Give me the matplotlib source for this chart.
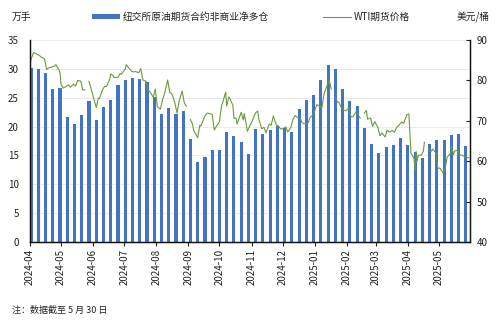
import numpy as np
import pandas as pd
import matplotlib
matplotlib.use("Agg")
import matplotlib.pyplot as plt
import matplotlib.dates as mdates
from matplotlib.patches import Patch
from matplotlib.lines import Line2D

plt.rcParams['font.family'] = ['Noto Sans CJK SC', 'DejaVu Sans']
plt.rcParams['axes.unicode_minus'] = False

# ------------------ DADOS ------------------
# COT semanal (terças-feiras), 万手
cot_dates = pd.date_range('2024-04-02', periods=61, freq='7D')
cot_net_long = [30.1, 29.9, 29.2, 26.5, 26.7, 21.6, 20.4, 22.0, 24.5, 21.1,
                23.4, 24.6, 27.2, 28.0, 28.5, 28.3, 27.7, 25.2, 22.2, 23.2,
                22.2, 22.7, 17.8, 13.9, 14.7, 15.9, 15.9, 19.0, 18.4, 17.4,
                15.3, 19.5, 18.7, 19.4, 20.1, 19.7, 19.0, 23.0, 24.6, 25.5,
                28.0, 30.6, 30.0, 26.5, 24.5, 23.5, 19.7, 17.0, 15.4, 16.4,
                16.8, 18.1, 16.8, 15.6, 14.6, 17.0, 17.7, 17.6, 18.6, 18.7,
                16.6]

# WTI, 美元/桶 (NaN = feriado, linha interrompida)
wti_dates = [
    '2024-04-01', '2024-04-02', '2024-04-04', '2024-04-05', '2024-04-08', '2024-04-10',
    '2024-04-12', '2024-04-15', '2024-04-17', '2024-04-19', '2024-04-23', '2024-04-25',
    '2024-04-26', '2024-04-29', '2024-04-30', '2024-05-01', '2024-05-03', '2024-05-06',
    '2024-05-08', '2024-05-10', '2024-05-13', '2024-05-15', '2024-05-17', '2024-05-20',
    '2024-05-22', '2024-05-24', '2024-05-27', '2024-05-28', '2024-05-30', '2024-05-31',
    '2024-06-03', '2024-06-04', '2024-06-06', '2024-06-07', '2024-06-10', '2024-06-12',
    '2024-06-14', '2024-06-17', '2024-06-18', '2024-06-20', '2024-06-21', '2024-06-25',
    '2024-06-27', '2024-06-28', '2024-07-02', '2024-07-03', '2024-07-05', '2024-07-08',
    '2024-07-10', '2024-07-12', '2024-07-15', '2024-07-17', '2024-07-19', '2024-07-22',
    '2024-07-24', '2024-07-26', '2024-07-29', '2024-07-31', '2024-08-02', '2024-08-05',
    '2024-08-07', '2024-08-09', '2024-08-12', '2024-08-14', '2024-08-16', '2024-08-19',
    '2024-08-21', '2024-08-23', '2024-08-26', '2024-08-28', '2024-08-30', '2024-09-02',
    '2024-09-03', '2024-09-05', '2024-09-06', '2024-09-10', '2024-09-12', '2024-09-13',
    '2024-09-17', '2024-09-19', '2024-09-20', '2024-09-24', '2024-09-26', '2024-09-27',
    '2024-10-01', '2024-10-03', '2024-10-04', '2024-10-07', '2024-10-08', '2024-10-10',
    '2024-10-11', '2024-10-14', '2024-10-15', '2024-10-17', '2024-10-18', '2024-10-22',
    '2024-10-24', '2024-10-25', '2024-10-28', '2024-10-30', '2024-11-01', '2024-11-04',
    '2024-11-05', '2024-11-07', '2024-11-08', '2024-11-11', '2024-11-13', '2024-11-15',
    '2024-11-18', '2024-11-20', '2024-11-22', '2024-11-25', '2024-11-27', '2024-11-29',
    '2024-12-02', '2024-12-04', '2024-12-06', '2024-12-09', '2024-12-11', '2024-12-13',
    '2024-12-16', '2024-12-18', '2024-12-20', '2024-12-23', '2024-12-26', '2024-12-27',
    '2024-12-31', '2025-01-03', '2025-01-06', '2025-01-08', '2025-01-10', '2025-01-13',
    '2025-01-15', '2025-01-17', '2025-01-20', '2025-01-21', '2025-01-23', '2025-01-24',
    '2025-01-27', '2025-01-29', '2025-01-31', '2025-02-03', '2025-02-05', '2025-02-07',
    '2025-02-10', '2025-02-12', '2025-02-14', '2025-02-17', '2025-02-18', '2025-02-20',
    '2025-02-21', '2025-02-24', '2025-02-26', '2025-02-28', '2025-03-03', '2025-03-05',
    '2025-03-07', '2025-03-10', '2025-03-12', '2025-03-14', '2025-03-17', '2025-03-19',
    '2025-03-21', '2025-03-24', '2025-03-26', '2025-03-28', '2025-03-31', '2025-04-02',
    '2025-04-03', '2025-04-04', '2025-04-07', '2025-04-08', '2025-04-09', '2025-04-10',
    '2025-04-11', '2025-04-14', '2025-04-16', '2025-04-17', '2025-04-18', '2025-04-21',
    '2025-04-23', '2025-04-25', '2025-04-28', '2025-04-30', '2025-05-02', '2025-05-05',
    '2025-05-07', '2025-05-09', '2025-05-12', '2025-05-13', '2025-05-15', '2025-05-16',
    '2025-05-19', '2025-05-21', '2025-05-23', '2025-05-27', '2025-05-29', '2025-05-30',
]
wti_prices = [
    83.7, 85.2, 86.6, 86.9, 86.4, 86.2,
    85.7, 85.4, 82.7, 83.1, 83.4, 83.6,
    83.9, 82.6, 81.9, 79.0, 78.1, 78.5,
    78.9, 78.3, 79.1, 78.6, 80.0, 79.8,
    77.6, 77.7, np.nan, 79.8, 77.9, 77.0,
    74.2, 73.3, 75.6, 75.5, 77.7, 78.5,
    78.5, 80.3, 81.6, 81.3, 80.7, 80.8,
    81.7, 81.5, 82.8, 83.9, 83.2, 82.3,
    82.1, 82.2, 81.9, 82.9, 80.1, 79.8,
    77.6, 77.2, 75.8, 77.9, 73.5, 72.9,
    75.2, 76.8, 80.1, 77.0, 76.7, 74.4,
    71.9, 74.8, 77.4, 74.5, 73.6, np.nan,
    70.3, 69.2, 67.7, 65.8, 68.9, 68.7,
    71.2, 71.9, 71.9, 71.6, 67.7, 68.2,
    69.8, 73.7, 74.4, 77.1, 73.6, 75.9,
    75.6, 73.8, 70.6, 70.7, 69.2, 72.1,
    70.2, 71.8, 67.4, 68.6, 69.5, 71.5,
    72.0, 72.4, 70.4, 68.0, 68.4, 67.0,
    69.2, 68.9, 71.2, 68.9, 68.7, 68.0,
    68.1, 68.5, 67.2, 68.4, 70.3, 71.3,
    70.7, 70.6, 69.5, 69.2, 69.6, 70.6,
    71.7, 74.0, 73.6, 73.3, 76.6, 78.8,
    80.0, 77.9, np.nan, 75.8, 74.6, 74.7,
    73.2, 72.6, 72.5, 73.2, 71.0, 71.0,
    72.3, 71.4, 70.7, np.nan, 71.9, 72.6,
    70.4, 70.7, 68.6, 69.8, 68.4, 66.3,
    67.0, 66.0, 67.7, 67.2, 67.6, 67.2,
    68.3, 69.1, 69.7, 69.4, 71.5, 71.7,
    67.0, 62.0, 60.7, 57.6, 62.4, 60.1,
    61.5, 61.5, 62.5, 64.7, np.nan, 63.1,
    62.3, 63.0, 62.1, 58.2, 58.3, 57.1,
    58.1, 61.0, 61.9, 63.7, 61.6, 62.5,
    62.7, 61.6, 61.5, 61.0, 60.9, 60.8,
]

# ------------------ GRÁFICO ------------------
cor_barra = '#4472C4'
cor_linha = '#6b9a3c'
cor_texto = '#222222'

fig = plt.figure(figsize=(4.96, 3.22), dpi=100)
ax = fig.add_axes([0.0605, 0.2484, 0.887, 0.6274])
ax2 = ax.twinx()

ax.set_axisbelow(True)
ax.yaxis.grid(True, color='#e6e6e6', linewidth=0.6)
ax.bar(cot_dates, cot_net_long, width=3.0, color=cor_barra, zorder=2)
ax2.plot(pd.to_datetime(wti_dates), wti_prices, color=cor_linha, linewidth=0.8)

ax.set_xlim(pd.Timestamp('2024-04-01'), pd.Timestamp('2025-05-31'))
ax.set_ylim(0, 35)
ax.set_yticks(range(0, 36, 5))
ax2.set_ylim(40, 90)
ax2.set_yticks(range(40, 91, 10))

ax.xaxis.set_major_locator(mdates.MonthLocator())
ax.xaxis.set_major_formatter(mdates.DateFormatter('%Y-%m'))
ax.tick_params(axis='x', rotation=90, labelsize=7, length=3, width=0.8,
               pad=2, colors=cor_texto)
ax.tick_params(axis='y', labelsize=7, length=0, pad=8, colors=cor_texto)
ax2.tick_params(axis='y', labelsize=7, direction='in', length=3, width=0.8,
                pad=5, colors=cor_texto)

for a in (ax, ax2):
    a.spines['top'].set_visible(False)
    for s in ('left', 'right', 'bottom'):
        a.spines[s].set_color('#111111')
        a.spines[s].set_linewidth(0.9)

fig.text(0.024, 0.947, '万手', fontsize=7, color=cor_texto, va='center')
fig.text(0.988, 0.947, '美元/桶', fontsize=7, color=cor_texto, va='center', ha='right')
fig.text(0.024, 0.037, '注：数据截至 5 月 30 日', fontsize=6.5, color=cor_texto, va='center')

handles = [Patch(facecolor=cor_barra, edgecolor='none'),
           Line2D([0], [0], color=cor_linha, linewidth=0.8)]
labels = ['纽交所原油期货合约非商业净多仓', 'WTI期货价格']
fig.legend(handles, labels, loc='center', bbox_to_anchor=(0.506, 0.947), ncol=2,
           frameon=False, fontsize=7, handlelength=2.9, handleheight=0.5,
           handletextpad=0.3, columnspacing=5.5, labelcolor=cor_texto)

fig.savefig('out.png', dpi=100)
